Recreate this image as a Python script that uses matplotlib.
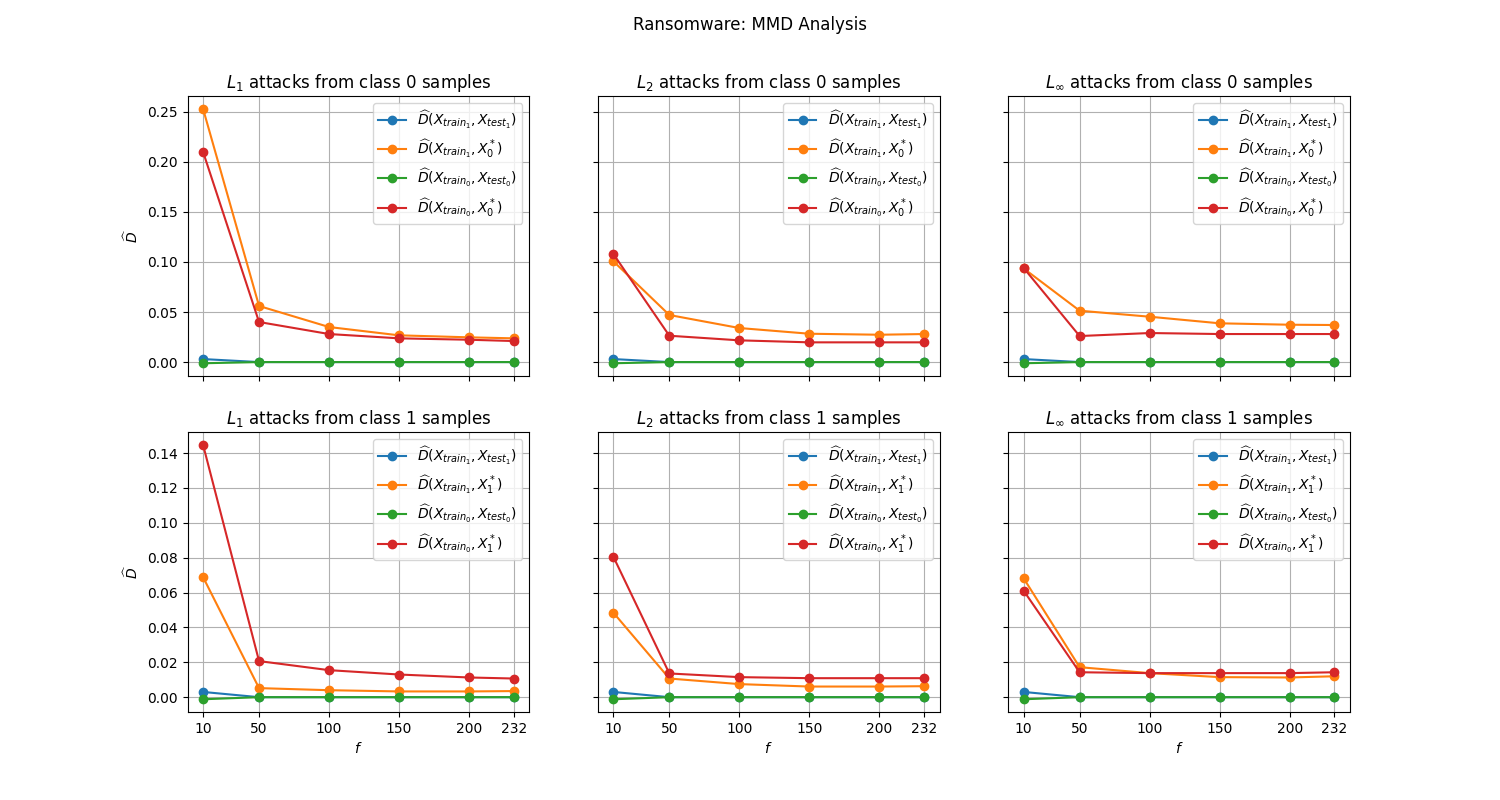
import numpy as np
import matplotlib
matplotlib.use('Agg')
import matplotlib.pyplot as plt

f_values = [10, 50, 100, 150, 200, 232]
norms = ['1', '2', '\\infty']

# same for every panel
d_train1_test1 = [0.003, 0.0, 0.0, 0.0, 0.0, 0.0]
d_train0_test0 = [-0.0012, 0.0, 0.0, 0.0, 0.0, 0.0]

# class 0 attacks, per norm: (train_1 vs adv, train_0 vs adv)
c0_train1_adv = {
    '1': [0.253, 0.056, 0.035, 0.0267, 0.0247, 0.0237],
    '2': [0.1007, 0.047, 0.034, 0.0283, 0.0273, 0.028],
    '\\infty': [0.0935, 0.0513, 0.0453, 0.0387, 0.0373, 0.037],
}
c0_train0_adv = {
    '1': [0.210, 0.040, 0.028, 0.0237, 0.0223, 0.021],
    '2': [0.108, 0.0263, 0.0217, 0.0197, 0.0197, 0.0197],
    '\\infty': [0.094, 0.026, 0.029, 0.028, 0.028, 0.028],
}
# class 1 attacks
c1_train1_adv = {
    '1': [0.0689, 0.0052, 0.004, 0.0033, 0.0033, 0.0035],
    '2': [0.0485, 0.0107, 0.0075, 0.0061, 0.0061, 0.0063],
    '\\infty': [0.0682, 0.0172, 0.0138, 0.0115, 0.0113, 0.012],
}
c1_train0_adv = {
    '1': [0.1448, 0.0207, 0.0155, 0.013, 0.0113, 0.0107],
    '2': [0.0806, 0.0136, 0.0115, 0.0109, 0.0109, 0.0109],
    '\\infty': [0.0611, 0.0143, 0.0138, 0.0138, 0.0138, 0.0143],
}

fig, axes = plt.subplots(2, 3, figsize=(15, 8), dpi=100, sharex=True, sharey='row')

for row, cls in enumerate([0, 1]):
    adv1 = c0_train1_adv if cls == 0 else c1_train1_adv
    adv0 = c0_train0_adv if cls == 0 else c1_train0_adv
    for col, n in enumerate(norms):
        ax = axes[row, col]
        ax.plot(f_values, d_train1_test1, marker='o',
                label=r'$\widehat{D}(X_{train_1}, X_{test_1})$')
        ax.plot(f_values, adv1[n], marker='o',
                label=r'$\widehat{D}(X_{train_1}, X_%d^*)$' % cls)
        ax.plot(f_values, d_train0_test0, marker='o',
                label=r'$\widehat{D}(X_{train_0}, X_{test_0})$')
        ax.plot(f_values, adv0[n], marker='o',
                label=r'$\widehat{D}(X_{train_0}, X_%d^*)$' % cls)
        ax.set_title(r'$L_{%s}$ attacks from class %d samples' % (n, cls))
        ax.grid(True)
        ax.legend(loc='upper right')
        if col == 0:
            ax.set_ylabel(r'$\widehat{D}$')
        if row == 1:
            ax.set_xlabel(r'$f$')

axes[1, 0].set_xticks(f_values)
fig.suptitle('Ransomware: MMD Analysis')
plt.savefig('out.png', dpi=100)
